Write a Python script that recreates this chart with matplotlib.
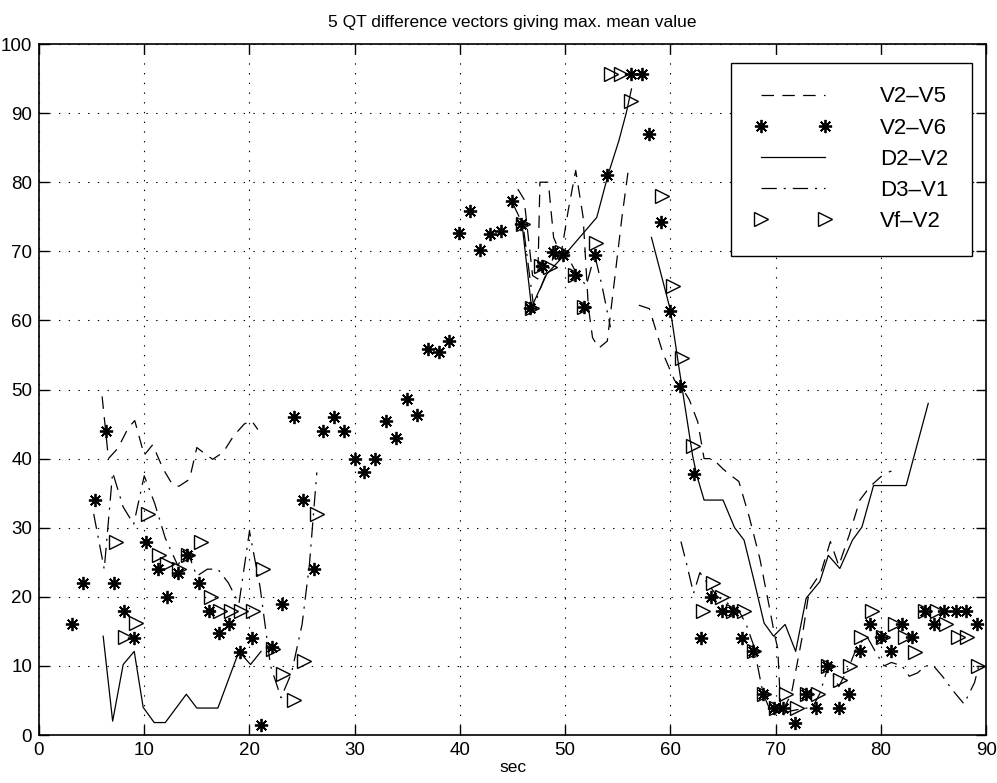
import numpy as np
import matplotlib
matplotlib.use('Agg')
from matplotlib import pyplot as plt

plt.rcParams['font.family'] = ['Liberation Sans', 'DejaVu Sans']
plt.rcParams['lines.scale_dashes'] = False

# V2-V5 (dashed), None = gap in the line
v25_x = [6, 6.6, 7.5, 8.5, 9.1, 10, 10.8, 11.8, 12.7, 13.3, 14.3, 15, 15.6, 16.5, 17.5, 18.5, 19.5, 20.2, 20.8, None,
         45.5, 46.1, 46.9, 47.4, 47.6, 48.4, 48.9, 49.6, 50.3, 51, 51.7, 52.2, 52.6, 53.2, 54, 54.7, 55.4, 56, None,
         57, 58, 59.3, 60.4, 61, 61.8, 62.6, 63.2, 64, 65, 65.8, 66.5, 67.5, 68.5, 69.3, 69.9, 70.2, 70.5, 71.5, 72.5,
         73.2, 74.3, 75.2, 76, 77, 78, 79, 80.3, 81]
v25_y = [49, 40, 41.5, 44.5, 45.5, 40.5, 42, 38.5, 36.2, 36, 37, 41.6, 40.9, 39.9, 40.9, 43.3, 45, 45.5, 44.2, None,
         79, 77.5, 66.5, 66, 80, 80, 72, 69.5, 76, 81.7, 75, 62, 57.5, 56, 57, 66, 75, 81.8, None,
         62.2, 61.7, 55.2, 51.3, 50.5, 48.5, 45.3, 40, 40, 38.5, 37.5, 36.7, 31.5, 25.5, 19.3, 14.5, 12.5, 3, 6, 14,
         21, 23.5, 28, 24.5, 29, 34, 36, 37.8, 38.2]

# V2-V6 (asterisks)
v26_x = [3.1, 4.2, 5.3, 6.4, 7.1, 8.1, 9.05, 10.2, 11.3, 12.2,
         13.2, 14.1, 15.2, 16.2, 17.1, 18.1, 19.1, 20.2, 21.1, 22.1,
         23.1, 24.2, 25.1, 26.1, 27, 28, 29, 30, 30.9, 31.9,
         33, 33.9, 35, 35.9, 37, 38, 39, 39.9, 41, 41.9,
         42.9, 43.9, 44.9, 45.8, 46.7, 47.8, 48.8, 49.8, 50.9, 51.8,
         52.8, 54, 56.3, 57.3, 58, 59.1, 60, 60.9, 62.2, 62.9,
         63.9, 64.9, 65.9, 66.8, 67.8, 68.8, 69.8, 70.7, 71.8, 72.9,
         73.8, 74.9, 76, 77, 78, 79, 80, 81, 82, 83,
         84.2, 85, 86, 87.1, 88.1, 89.1]
v26_y = [16, 22, 34, 44, 22, 18, 14, 28, 24, 20,
         23.5, 26, 22, 18, 14.8, 16, 12, 14, 1.5, 12.8,
         19, 46, 34, 24, 44, 46, 44, 40, 38, 40,
         45.5, 43, 48.6, 46.3, 55.8, 55.4, 57, 72.7, 75.9, 70.2,
         72.5, 72.9, 77.3, 74, 61.8, 67.9, 69.9, 69.5, 66.5, 62,
         69.4, 81, 95.6, 95.6, 87, 74.2, 61.3, 50.5, 37.7, 14,
         20, 18, 18, 14, 12.1, 5.9, 3.9, 3.9, 1.8, 5.9,
         3.9, 10, 3.9, 6, 12.2, 16, 14.2, 12.2, 16, 14.2,
         18, 16, 18, 18, 18, 16]

# D2-V2 (solid)
d22_x = [6.1, 7, 8, 9.05, 9.9, 10.95, 12, 14, 15, 17, 19, 20.1, 21.1, None,
         45.9, 46.8, 48.25, 50.3, 53, 54.1, 55.1, 55.8, 56.3, None,
         58.2, 60, 60.8, 62.1, 62.5, 63.2, 65, 66.1, 67, 68, 68.9, 69.8, 70.9, 71.9, 72.9, 74.2, 75, 76.1,
         77.3, 78.2, 79.3, 82.4, 84.5]
d22_y = [14.3, 2, 10.2, 12.1, 4, 1.8, 1.8, 5.9, 3.9, 3.9, 12.1, 10.2, 12.1, None,
         74, 61.9, 66.7, 70.1, 74.9, 81.2, 86, 90, 93.5, None,
         72, 61.5, 53.3, 40.5, 37.6, 34, 34, 30, 28.2, 22, 16.2, 14.3, 16, 12.1, 19.8, 22.2, 26, 24.1,
         28.2, 30.1, 36.1, 36.1, 48]

# D3-V1 (dash-dot)
d31_x = [5.2, 6.2, 7, 8, 9, 10, 11, 12, 13.2, 14, 15, 16, 17, 18, 19, 20, 21, 22, 23, 24, 25, 25.7, 26.4, None,
         45, 46, 47, 48, 49, 50, 51, 52, 52.8, 53.5, 54.3, None,
         61, 61.5, 62.2, 62.8, 63.5, 64.5, 65.5, 66.5, 67.2, 67.9, 68.8, 69.5, 70.5, 71.5, 72.5, 73.5, 74.2, 75,
         76, 77, 77.8, 78.7, 79.5, 80.3, 81, 82, 82.7, 83.5, 84.2, 85, 85.9, 86.8, 87.9, 88.9, 89.3]
d31_y = [32, 24, 38, 33, 30.5, 37.5, 33.5, 28.5, 24.5, 27, 23, 24, 24, 22, 19, 29.5, 21.5, 10, 5.4, 9, 16, 24.7, 38, None,
         77, 73.8, 62, 66, 69.5, 70, 67, 65, 69.5, 65, 59, None,
         28, 25, 20.5, 23.5, 22, 20, 19, 18, 16, 13, 6, 3.5, 3, 3.5, 3.8, 4, 6, 10,
         7, 10, 13, 14.2, 12, 10, 10.5, 10, 8.5, 9, 10, 10, 8.4, 6.5, 4.5, 7.6, 10]

# Vf-V2 (open triangles)
vf_x = [7.3, 8.2, 9.2, 10.4, 11.4, 12.2, 13.3, 14.2, 15.4, 16.3,
        17.2, 18.2, 19.2, 20.3, 21.3, 22.2, 23.2, 24.2, 25.2, 26.4,
        46, 46.8, 47.7, 48.6, 49.7, 50.9, 51.8, 52.9, 54.4, 55.35,
        56.3, 59.2, 60.2, 61.1, 62.1, 63.1, 64, 64.9, 65.9, 67,
        67.9, 68.9, 70, 71, 72, 73, 74, 75, 76.1, 77.1,
        78.1, 79.2, 80.2, 81.3, 82.3, 83.2, 84.2, 85.3, 86.2, 87.3,
        88.2, 89.2]
vf_y = [28, 14.2, 16.2, 32, 26, 24.7, 24, 26.1, 28, 20,
        18, 18, 18, 18, 24, 12.4, 8.8, 5, 10.7, 32,
        74, 61.8, 67.9, 67.7, 69.9, 66.5, 62, 71.2, 95.6, 95.6,
        91.7, 78, 65, 54.5, 41.8, 18, 22, 20, 18, 18,
        12.1, 5.9, 3.9, 5.9, 3.9, 5.9, 5.9, 10, 7.9, 10,
        14.2, 18, 14.2, 16, 14.2, 12, 18, 18, 16, 14.2,
        14.2, 10]

fig = plt.figure(figsize=(9.97, 7.83), dpi=100)
ax = fig.add_axes([0.0391, 0.0613, 0.950, 0.8825])

ax.plot(np.array(v25_x, dtype=float), np.array(v25_y, dtype=float), color='k', lw=0.9,
        dashes=(9, 6), label='V2\u2013V5')
ax.plot(v26_x, v26_y, ls='none', marker=(8, 2, 0), ms=9.5, mew=1.3, color='k', label='V2\u2013V6')
ax.plot(np.array(d22_x, dtype=float), np.array(d22_y, dtype=float), color='k', lw=0.9, label='D2\u2013V2')
ax.plot(np.array(d31_x, dtype=float), np.array(d31_y, dtype=float), color='k', lw=0.9,
        dashes=(11, 5, 1.5, 5), label='D3\u2013V1')
ax.plot(vf_x, vf_y, ls='none', marker='>', ms=10, mfc='none', mec='k', mew=1.0, label='Vf\u2013V2')

ax.set_xlim(0, 90)
ax.set_ylim(0, 100)
ax.set_xticks(range(0, 91, 10))
ax.set_yticks(range(0, 101, 10))
ax.tick_params(direction='in', top=True, right=True, length=7, width=1, labelsize=13.5, pad=5)
ax.grid(True, color='k', linestyle=(0, (1, 6)), linewidth=0.8)
for s in ax.spines.values():
    s.set_linewidth(1.2)

ax.set_title('5 QT difference vectors giving max. mean value', fontsize=12.5, pad=12)
ax.set_xlabel('sec', fontsize=12.5, labelpad=1)

leg = ax.legend(loc='upper right', bbox_to_anchor=(0.985, 0.9725), borderaxespad=0, fontsize=16,
                numpoints=2, handlelength=3.47, handletextpad=2.2, labelspacing=0.46, borderpad=1.05,
                fancybox=False, framealpha=1, edgecolor='k')
leg.get_frame().set_linewidth(1.0)

fig.savefig('out.png', dpi=100)
